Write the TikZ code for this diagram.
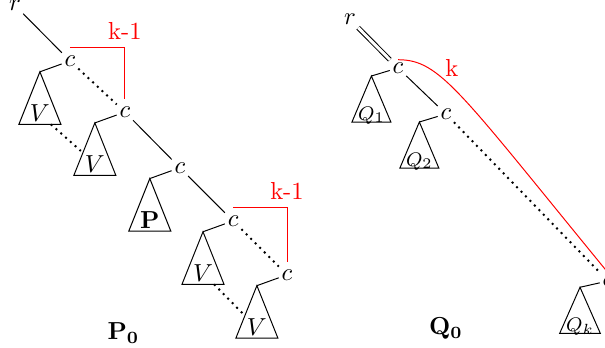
\documentclass[tikz,border=0pt]{standalone}
\usepackage{amsmath,amssymb}
\usepackage{tikz}
\usetikzlibrary{calc}

\tikzset{
  vert/.style={inner sep=1pt},
  link/.style={line width=0.8pt, dash pattern=on 0.8pt off 1.8pt},
  subtree/.pic={
    \draw (0,0) -- (-0.3,-0.75) -- (0.3,-0.75) -- cycle;
    \node[anchor=base, inner sep=0pt] at (0,-0.715) {#1};
  }
}

\begin{document}
\begin{tikzpicture}
  \useasboundingbox (0,0) rectangle (8.643,4.971);
  \clip (0,0) rectangle (8.643,4.971);

  % left tree
  \node[vert] (r) at (0.214,4.893) {$r$};
  \node[vert] (c1) at (1.00,4.10) {$c$};
  \node[vert] (c2) at (1.785,3.37) {$c$};
  \node[vert] (c3) at (2.57,2.575) {$c$};
  \node[vert] (c4) at (3.33,1.815) {$c$};
  \node[vert] (c5) at (4.10,1.045) {$c$};
  \draw (r) -- (c1);
  \draw[link] (c1) -- (c2);
  \draw (c2) -- (c3);
  \draw (c3) -- (c4);
  \draw[link] (c4) -- (c5);

  \coordinate (a1) at ($(c1)+(-0.43,-0.155)$);
  \coordinate (a2) at ($(c2)+(-0.43,-0.155)$);
  \coordinate (a3) at ($(c3)+(-0.43,-0.155)$);
  \coordinate (a4) at ($(c4)+(-0.43,-0.155)$);
  \coordinate (a5) at ($(c5)+(-0.43,-0.155)$);
  \draw (c1) -- (a1);
  \draw (c2) -- (a2);
  \draw (c3) -- (a3);
  \draw (c4) -- (a4);
  \draw (c5) -- (a5);
  \pic at (a1) {subtree=$V$};
  \pic at (a2) {subtree=$V$};
  \pic at (a3) {subtree=$\mathbf{P}$};
  \pic at (a4) {subtree=$V$};
  \pic at (a5) {subtree=$V$};
  \draw[link] ($(a1)+(0.157,-0.75)$) -- ($(a2)+(-0.2,-0.4)$);
  \draw[link] ($(a4)+(0.157,-0.75)$) -- ($(a5)+(-0.2,-0.4)$);

  \draw[red] ([yshift=2pt]c1.north) -| node[above, pos=0.5] {k-1} ([yshift=2pt]c2.north);
  \draw[red] ([yshift=2pt]c4.north) -| node[above, pos=0.5] {k-1} ([yshift=2pt]c5.north);

  \node[anchor=base] (p0) at (1.764,0.114) {$\mathbf{P_0}$};

  % right tree
  \node[vert] (qr) at (5.0,4.693) {$r$};
  \node[vert] (q1) at (5.686,4.0) {$c$};
  \node[vert] (q2) at (6.371,3.343) {$c$};
  \node[vert] (qk) at (8.686,0.957) {$c$};
  \draw[double, double distance=1.2pt] (qr) -- (q1);
  \draw (q1) -- (q2);
  \draw[link] (q2) -- (qk);

  \coordinate (b1) at ($(q1)+(-0.38,-0.115)$);
  \coordinate (b2) at ($(q2)+(-0.38,-0.115)$);
  \coordinate (bk) at ($(qk)+(-0.40,-0.09)$);
  \draw (q1) -- (b1);
  \draw (q2) -- (b2);
  \draw (qk) -- (bk);
  \pic[xscale=0.93, yscale=0.88] at (b1) {subtree={\footnotesize$Q_1$}};
  \pic[xscale=0.93, yscale=0.88] at (b2) {subtree={\footnotesize$Q_2$}};
  \pic[xscale=0.97, yscale=0.88] at (bk) {subtree={\footnotesize$Q_k$}};

  \draw[red] (q1.north) .. controls +(0.6,0) and +(-2.13,2.6) .. (qk.north);
  \node[red] (klab) at (6.457,4.0) {k};

  \node[anchor=base] (q0) at (6.371,0.186) {$\mathbf{Q_0}$};
\end{tikzpicture}
\end{document}
